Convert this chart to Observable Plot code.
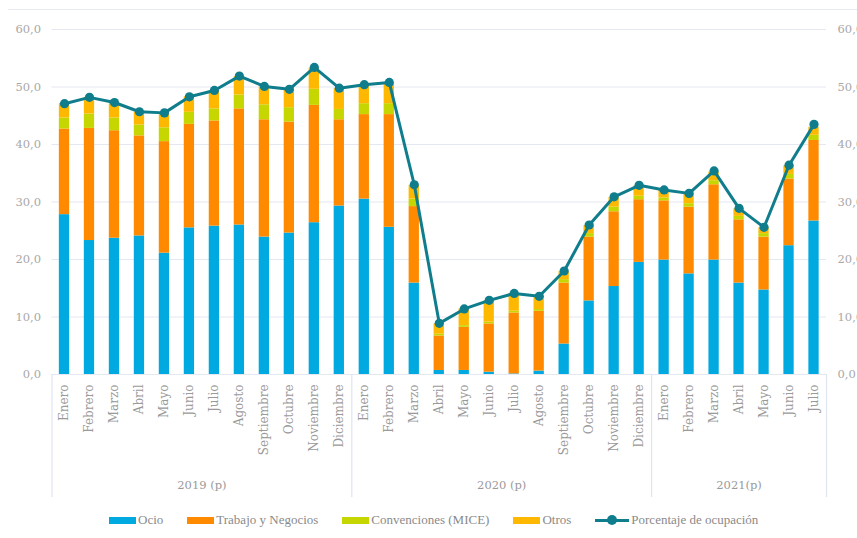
<!DOCTYPE html>
<html>
<head>
<meta charset="utf-8">
<script src="https://cdn.jsdelivr.net/npm/d3@7"></script>
<script src="https://cdn.jsdelivr.net/npm/@observablehq/plot@0.6"></script>
<style>
  html, body { margin: 0; padding: 0; background: #fff; }
  #wrap { position: relative; width: 857px; }
  #topline { position: absolute; top: 9px; left: 8px; right: 0; height: 1px; background: #e6ebf2; }
  #legend { display: flex; align-items: center; padding-left: 109px; margin-top: 10px; height: 20px;
            font-family: "Liberation Serif", serif; font-size: 13px; color: #8a8a8a; }
  .item { display: flex; align-items: center; margin-right: 24px; }
  .sw { width: 27px; height: 7px; margin-right: 2px; }
  .ln { position: relative; width: 34px; height: 3px; margin-right: 2px; }
  .ln::after { content: ""; position: absolute; left: 12px; top: -3.5px; width: 10px; height: 10px; border-radius: 50%; background: inherit; }
</style>
</head>
<body>
<div id="wrap">
  <div id="topline"></div>
  <div id="chart"></div>
  <div id="legend"></div>
</div>
<script>
const periodMonths = [
  "Enero","Febrero","Marzo","Abril","Mayo","Junio","Julio","Agosto","Septiembre","Octubre","Noviembre","Diciembre",
  "Enero","Febrero","Marzo","Abril","Mayo","Junio","Julio","Agosto","Septiembre","Octubre","Noviembre","Diciembre",
  "Enero","Febrero","Marzo","Abril","Mayo","Junio","Julio"
];
const periodYear = [
  "2019 (p)","2019 (p)","2019 (p)","2019 (p)","2019 (p)","2019 (p)","2019 (p)","2019 (p)","2019 (p)","2019 (p)","2019 (p)","2019 (p)",
  "2020 (p)","2020 (p)","2020 (p)","2020 (p)","2020 (p)","2020 (p)","2020 (p)","2020 (p)","2020 (p)","2020 (p)","2020 (p)","2020 (p)",
  "2021(p)","2021(p)","2021(p)","2021(p)","2021(p)","2021(p)","2021(p)"
];
const yearLabels = ["2019 (p)", "2020 (p)", "2021(p)"];
const seriesNames = ["Ocio", "Trabajo y Negocios", "Convenciones (MICE)", "Otros"];
const seriesColors = ["#00a9e0", "#ff8a00", "#c6d600", "#ffb800"];
const lineName = "Porcentaje de ocupación";
const lineColor = "#0f7d8c";

const ocio = [27.8,23.3,23.7,24.1,21.1,25.5,25.8,26.0,23.9,24.6,26.4,29.3,
              30.5,25.6,15.9,0.7,0.7,0.4,0.1,0.6,5.3,12.8,15.3,19.5,
              19.9,17.5,19.9,15.9,14.7,22.4,26.7];
const trabajo = [14.9,19.5,18.7,17.4,19.4,18.0,18.3,20.2,20.4,19.3,20.4,15.0,
                 14.7,19.6,13.3,6.0,7.5,8.4,10.6,10.4,10.6,11.1,13.0,10.9,
                 10.3,11.6,13.1,11.0,9.2,11.6,14.0];
const mice = [1.9,2.5,2.2,1.9,2.4,2.1,2.1,2.4,2.6,2.5,2.8,1.8,
              1.9,1.9,1.3,0.3,0.3,0.3,0.3,0.3,0.6,0.6,0.8,0.6,
              0.5,0.6,0.7,0.6,0.6,0.8,0.9];
const otros = [2.5,2.9,2.6,2.2,2.6,2.7,3.1,3.2,3.1,3.1,3.7,3.6,
               3.2,3.6,2.4,1.8,2.9,3.7,3.1,2.3,1.4,1.4,1.7,1.8,
               1.3,1.7,1.5,1.3,1.0,1.5,1.4];
const ocupacion = [47.1,48.2,47.3,45.7,45.5,48.3,49.4,51.9,50.1,49.6,53.4,49.8,
                   50.4,50.8,33.0,8.9,11.4,12.9,14.1,13.6,18.0,26.0,30.9,32.9,
                   32.1,31.5,35.4,28.9,25.6,36.4,43.5];
const yTicks = [0, 10, 20, 30, 40, 50, 60];

// Build stacked table
const seriesValues = [ocio, trabajo, mice, otros];
const rows = [];
periodMonths.forEach((m, i) => {
  let acc = 0;
  seriesValues.forEach((vals, s) => {
    rows.push({i, series: seriesNames[s], y1: acc, y2: acc + vals[i]});
    acc += vals[i];
  });
});
const occRows = ocupacion.map((v, i) => ({i, v}));
const yearRows = yearLabels.map(y => {
  const idx = periodYear.map((p, i) => p === y ? i : -1).filter(i => i >= 0);
  return {year: y, mid: d3.mean(idx)};
});
const boundaries = [-0.5, ...yearLabels.slice(1).map(y => periodYear.indexOf(y) - 0.5), periodYear.length - 0.5];

const fmt = d => d.toFixed(1).replace(".", ",");
const half = 0.206;

const chart = Plot.plot({
  width: 857,
  height: 500,
  marginLeft: 51.5,
  marginRight: 31,
  marginTop: 29,
  marginBottom: 126,
  x: {domain: [-0.5, periodMonths.length - 0.5], axis: null},
  y: {domain: [0, 60], axis: null},
  color: {domain: seriesNames, range: seriesColors},
  style: {fontFamily: "DejaVu Serif", fontSize: "11px", background: "transparent"},
  marks: [
    Plot.ruleY(yTicks, {stroke: "#e3e8f1", strokeWidth: 1.2}),
    Plot.rect(rows, {x1: d => d.i - half, x2: d => d.i + half, y1: "y1", y2: "y2", fill: "series"}),
    Plot.line(occRows, {x: "i", y: "v", stroke: lineColor, strokeWidth: 3}),
    Plot.dot(occRows, {x: "i", y: "v", r: 4.6, fill: lineColor}),
    Plot.axisY({anchor: "left", ticks: yTicks, tickFormat: fmt, tickSize: 0, tickPadding: 11, color: "#a8a8a8", fontSize: 11.5}),
    Plot.axisY({anchor: "right", ticks: yTicks, tickFormat: fmt, tickSize: 0, tickPadding: 11, color: "#a8a8a8", fontSize: 11.5}),
    Plot.axisX({ticks: d3.range(periodMonths.length), tickFormat: i => periodMonths[i], tickRotate: -90,
                tickSize: 0, tickPadding: 10, color: "#9a9a9a", fontSize: 12, style: {letterSpacing: "1.7px"}}),
    Plot.ruleX(boundaries, {y1: 0, y2: -21.4, stroke: "#dfe5ef", strokeWidth: 1.2}),
    Plot.text(yearRows, {x: "mid", text: "year", frameAnchor: "bottom", dy: 114, fill: "#9a9a9a", fontSize: 11.5})
  ]
});
document.getElementById("chart").appendChild(chart);

// Legend
const legend = document.getElementById("legend");
seriesNames.forEach((name, k) => {
  const it = document.createElement("div");
  it.className = "item";
  it.innerHTML = `<div class="sw" style="background:${seriesColors[k]}"></div><span>${name}</span>`;
  legend.appendChild(it);
});
const li = document.createElement("div");
li.className = "item";
li.style.marginRight = "0";
li.innerHTML = `<div class="ln" style="background:${lineColor}"></div><span>${lineName}</span>`;
legend.appendChild(li);
</script>
</body>
</html>
